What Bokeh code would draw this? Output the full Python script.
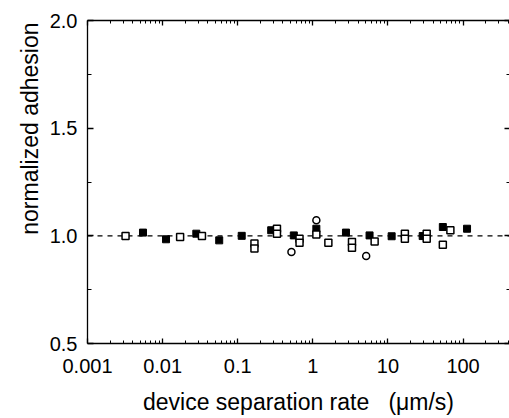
import numpy as np
from bokeh.plotting import figure
from bokeh.models import LogAxis, LinearAxis, FixedTicker, Span, CustomJSTickFormatter, Title
from bokeh.embed import file_html
from bokeh.resources import INLINE

# ---- data ----
filled_x = [0.00548, 0.0111, 0.0281, 0.0567, 0.113, 0.279, 0.558, 1.114, 2.76, 5.69, 11.2, 29.0, 53.8, 113]
filled_y = [1.015, 0.984, 1.010, 0.979, 1.000, 1.026, 1.002, 1.033, 1.015, 1.002, 0.998, 0.999, 1.041, 1.033]

open_x = [0.00321, 0.0171, 0.0334, 0.167, 0.167, 0.333, 0.333, 0.665, 0.665, 1.114,
          1.61, 3.32, 3.32, 6.65, 16.8, 16.8, 32.8, 32.8, 53.8, 67.8]
open_y = [0.999, 0.995, 0.999, 0.964, 0.941, 1.033, 1.010, 0.987, 0.968, 1.006,
          0.968, 0.971, 0.945, 0.974, 1.010, 0.987, 1.010, 0.987, 0.959, 1.026]

circle_x = [0.519, 1.114, 5.13]
circle_y = [0.925, 1.072, 0.906]

x_major = [0.001, 0.01, 0.1, 1, 10, 100]
x_labels = ["0.001", "0.01", "0.1", "1", "10", "100"]
y_major = [0.5, 1.0, 1.5, 2.0]
y_labels = ["0.5", "1.0", "1.5", "2.0"]
reference_level = 1.0
y_title = "normalized adhesion"
x_title = "device separation rate\u00a0\u00a0\u00a0(\u03bcm/s)"

# ---- ticks ----
x_minor = [m * 10.0 ** e for e in range(-3, 3) for m in range(2, 10)]
y_minor = [0.75, 1.25, 1.75]

LEFT, RIGHT = 87, 505
XEND = 10 ** (-3 + (RIGHT - LEFT) / 74.4)
H = 418

FONT = "Liberation Sans"

p = figure(width=509, height=H, x_axis_type="log",
           x_range=(0.001, XEND), y_range=(0.5, 2.0),
           output_backend="svg", toolbar_location=None,
           min_border_left=LEFT, min_border_right=0,
           min_border_top=20, min_border_bottom=75,
           background_fill_color="white", border_fill_color="white")
p.outline_line_color = None
p.xgrid.visible = False
p.ygrid.visible = False

def style(ax, in_major=6, in_minor=3):
    ax.major_tick_in = in_major
    ax.major_tick_out = 0
    ax.minor_tick_in = in_minor
    ax.minor_tick_out = 0
    ax.axis_line_color = "black"
    ax.axis_line_width = 1.3
    ax.major_tick_line_color = "black"
    ax.minor_tick_line_color = "black"
    ax.major_tick_line_width = 1.3
    ax.minor_tick_line_width = 1.0
    ax.major_label_text_font = FONT
    ax.major_label_text_font_size = "20px"
    ax.major_label_text_color = "black"
    ax.axis_label_text_font = FONT
    ax.axis_label_text_font_size = "23px"
    ax.axis_label_text_font_style = "normal"
    ax.axis_label_text_color = "black"

xb = p.xaxis[0]
xb.ticker = FixedTicker(ticks=x_major, minor_ticks=x_minor)
xb.major_label_overrides = {v: s for v, s in zip(x_major, x_labels)}
xb.axis_label = x_title
style(xb, 5, 3)
xb.major_label_standoff = 15
xb.axis_label_standoff = 13

yl = p.yaxis[0]
yl.ticker = FixedTicker(ticks=y_major, minor_ticks=y_minor)
yl.major_label_overrides = {v: s for v, s in zip(y_major, y_labels)}
style(yl, 6, 4)
yl.major_label_standoff = 10

# y title placed at the top of the axis, as in the reference
p.add_layout(Title(text=y_title, align="right", offset=2, text_font=FONT,
                   text_font_size="23px", text_font_style="normal",
                   text_color="black", standoff=8), "left")

empty = CustomJSTickFormatter(code="return ''")
top = LogAxis(ticker=FixedTicker(ticks=x_major, minor_ticks=x_minor), formatter=empty)
style(top, 5, 3)
top.major_label_standoff = 0
top.axis_label_standoff = 0
top.major_label_text_font_size = "0px"
p.add_layout(top, "above")

right = LinearAxis(ticker=FixedTicker(ticks=y_major, minor_ticks=y_minor), formatter=empty)
style(right, 5, 3)
right.axis_line_color = None
right.major_label_standoff = 0
right.axis_label_standoff = 0
right.major_label_text_font_size = "0px"
p.add_layout(right, "right")

p.add_layout(Span(location=reference_level, dimension="width", line_color="black",
                  line_dash="5 5", line_width=1.2, level="underlay"))

p.scatter(filled_x, filled_y, marker="square", size=7, fill_color="black", line_color="black")
p.scatter(open_x, open_y, marker="square", size=7, fill_color="white", line_color="black", line_width=1.5)
p.scatter(circle_x, circle_y, marker="circle", size=7, fill_color="white", line_color="black", line_width=1.5)

open("out.html", "w").write(file_html(p, INLINE))
